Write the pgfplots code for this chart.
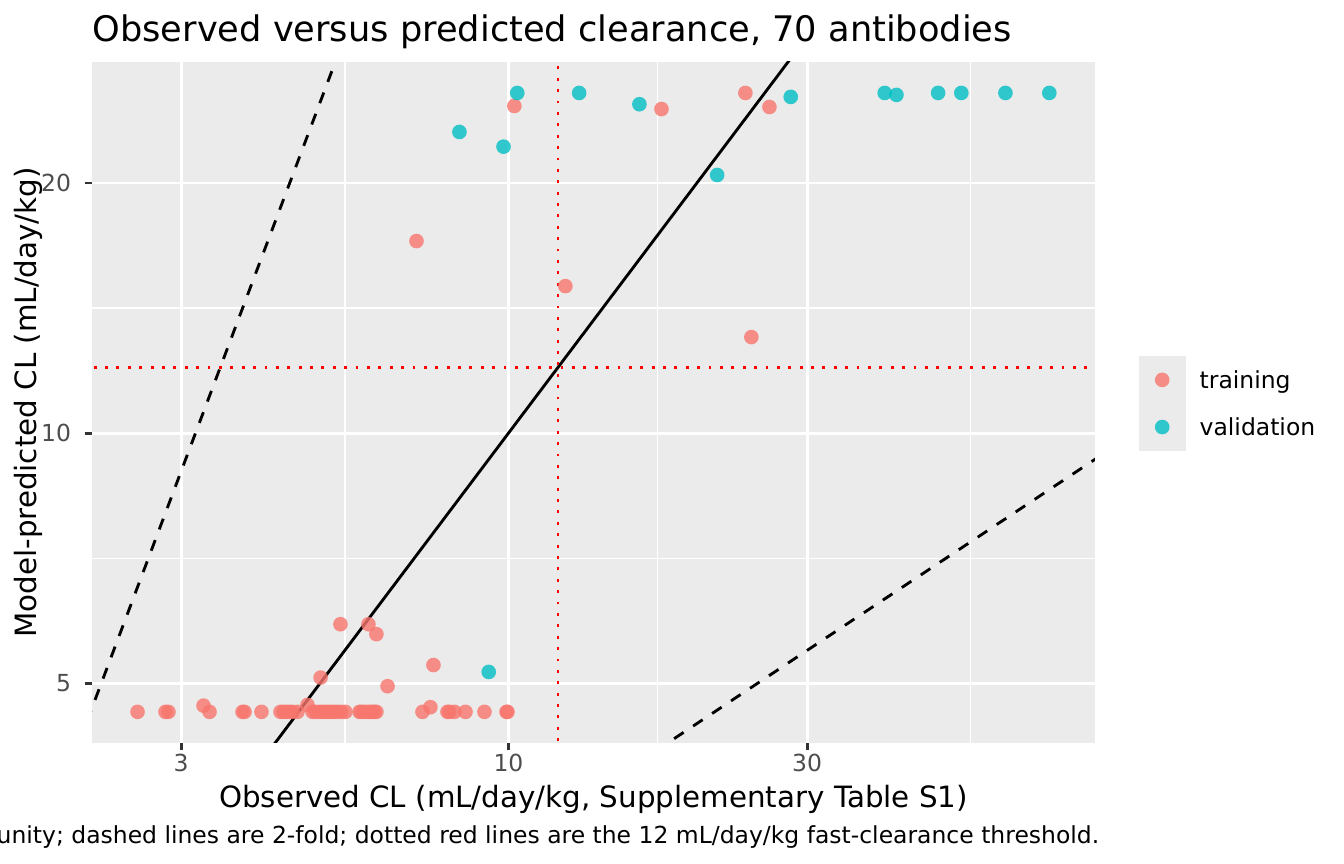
\documentclass[border=0pt]{standalone}
\usepackage{fontspec}
\setmainfont{DejaVu Sans}
\usepackage{pgfplots}
\usepackage{pgfplotstable}
\pgfplotsset{compat=1.18}
\definecolor{panelbg}{HTML}{EBEBEB}
\definecolor{trainc}{HTML}{F8766D}
\definecolor{validc}{HTML}{00BFC4}
\definecolor{ticklab}{HTML}{4D4D4D}
\definecolor{tickc}{HTML}{333333}

\pgfplotstableread{
x y
2.555 4.62
2.832 4.62
2.863 4.62
3.257 4.70
3.330 4.62
3.760 4.62
3.788 4.62
4.031 4.62
4.323 4.62
4.371 4.62
4.419 4.62
4.468 4.62
4.519 4.62
4.602 4.62
4.775 4.71
4.864 4.62
4.918 4.62
4.991 4.62
5.046 4.62
5.102 4.62
5.158 4.62
5.214 4.62
5.272 4.62
5.330 4.62
5.409 4.62
5.489 4.62
5.781 4.62
5.823 4.62
5.888 4.62
5.953 4.62
6.018 4.62
6.063 4.62
6.107 4.62
6.153 4.62
7.289 4.62
7.506 4.68
7.992 4.62
8.050 4.62
8.199 4.62
8.539 4.62
9.155 4.62
9.930 4.62
9.963 4.62
10.22 24.76
17.56 24.55
23.91 25.67
26.12 24.69
7.13 17.03
12.33 15.03
24.44 13.05
5.39 5.89
5.975 5.89
6.153 5.73
5.01 5.08
7.59 5.26
6.41 4.96
}\training

\pgfplotstableread{
x y
10.33 25.67
12.97 25.67
16.19 24.88
8.35 23.04
9.82 22.12
21.55 20.45
28.25 25.39
39.92 25.67
41.68 25.53
48.58 25.67
52.91 25.67
62.23 25.67
73.14 25.67
9.30 5.16
}\validation

\pgfplotsset{
  keyimg/.style={legend image code/.code={%
     \fill[panelbg] (-8.64pt,-8.64pt) rectangle (8.64pt,8.64pt);
     \draw[##1] plot coordinates {(0pt,0pt)};}},
}

\begin{document}
\begin{tikzpicture}
\useasboundingbox (0,0) rectangle (504pt,324pt);
\begin{axis}[
  at={(34.5pt,45.4pt)}, anchor=south west,
  scale only axis, width=376.1pt, height=255.35pt,
  xmode=log, ymode=log,
  xmin=2.161, xmax=86.5, ymin=4.239, ymax=27.97,
  axis background/.style={fill=panelbg},
  axis line style={draw=none},
  xtick={3,10,30}, xticklabels={3,10,30},
  ytick={5,10,20}, yticklabels={5,10,20},
  minor xtick={5.477,17.32,54.77},
  minor ytick={7.071,14.14},
  grid=both,
  major grid style={white, line width=1.07pt},
  minor grid style={white, line width=0.53pt},
  tick align=outside,
  major tick length=2.75pt, minor tick length=0pt,
  tick style={draw=tickc, line width=1.07pt},
  xtick pos=left, ytick pos=left,
  xticklabel style={font=\fontsize{8.8}{10}\selectfont, text=ticklab, anchor=north, inner sep=0pt, yshift=-1.2pt},
  yticklabel style={font=\fontsize{8.8}{10}\selectfont, text=ticklab, anchor=east, inner sep=0pt, xshift=-4.95pt},
  legend style={at={(1.0436,0.4985)}, anchor=west, draw=none, fill=none,
    inner sep=0pt, outer sep=0pt, row sep=0pt, column sep=5.2pt,
    nodes={inner sep=0pt, text=black, text depth=0pt, font=\fontsize{8.8}{10}\selectfont}},
  legend cell align=left,
]
\addplot[black, line width=1.07pt, forget plot] coordinates {(2,2) (100,100)};
\addplot[black, line width=1.07pt, dash pattern=on 4.27pt off 4.27pt, forget plot] coordinates {(2,4) (6,36)};
\addplot[black, line width=1.07pt, dash pattern=on 4.27pt off 4.27pt, forget plot] coordinates {(16,4) (100,10)};
\addplot[red, line width=1.07pt, dash pattern=on 1.07pt off 3.2pt, forget plot] coordinates {(12,4) (12,30)};
\addplot[red, line width=1.07pt, dash pattern=on 1.07pt off 3.2pt, forget plot] coordinates {(2,12) (100,12)};
\addplot[trainc, only marks, mark=*, mark size=2.75pt, mark options={fill=trainc, fill opacity=0.8, draw opacity=0}, keyimg] table[x=x,y=y] {\training};
\addlegendentry{training}
\addplot[validc, only marks, mark=*, mark size=2.75pt, mark options={fill=validc, fill opacity=0.8, draw opacity=0}, keyimg] table[x=x,y=y] {\validation};
\addlegendentry{validation}
\end{axis}
\node[anchor=base west, inner sep=0pt, font=\fontsize{13.2}{15}\selectfont] at (34.5pt,308.4pt) {Observed versus predicted clearance, 70 antibodies};
\node[anchor=base, inner sep=0pt, font=\fontsize{11}{13}\selectfont] at (222.55pt,21.0pt) {Observed CL (mL/day/kg, Supplementary Table S1)};
\node[anchor=base, rotate=90, inner sep=0pt, font=\fontsize{11}{13}\selectfont] at (13.8pt,173.1pt) {Model-predicted CL (mL/day/kg)};
\node[anchor=base east, inner sep=0pt, font=\fontsize{8.8}{10}\selectfont] at (412.4pt,7.7pt) {unity; dashed lines are 2-fold; dotted red lines are the 12 mL/day/kg fast-clearance threshold.};
\end{tikzpicture}
\end{document}
